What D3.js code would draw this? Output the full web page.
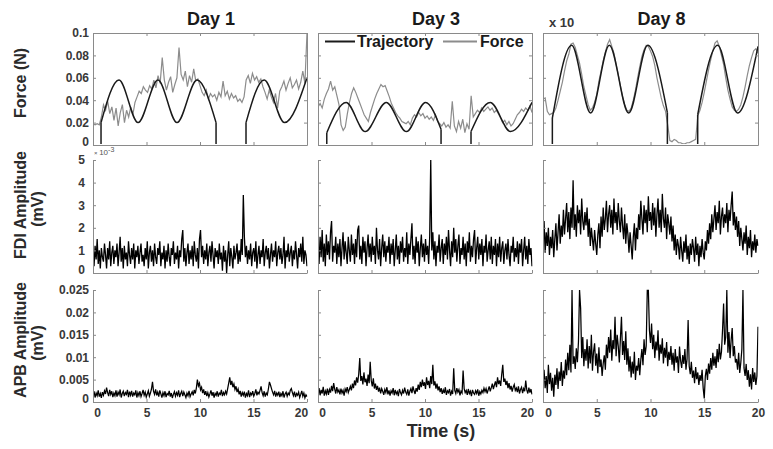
<!DOCTYPE html>
<html><head><meta charset="utf-8">
<script src="https://cdn.jsdelivr.net/npm/d3@7"></script>
<style>body{margin:0;background:#fff}svg{display:block}</style>
</head><body><svg id="c" width="773" height="449"></svg>
<script>
const days = ["Day 1", "Day 3", "Day 8"];
const duration = 20; // s, each recording spans 0–20 s, evenly sampled
const timeTicks = [0, 5, 10, 15, 20];
const timeTickLabels = ["0", "5", "10", "15", "20"];
const forceTicks = [0, 0.02, 0.04, 0.06, 0.08, 0.1];
const forceTickLabels = ["0", "0.02", "0.04", "0.06", "0.08", "0.1"];
const fdiTicks = [0, 1, 2, 3, 4, 5]; // ×10^-3 mV
const fdiTickLabels = ["0", "1", "2", "3", "4", "5"];
const apbTicks = [0, 0.005, 0.01, 0.015, 0.02, 0.025];
const apbTickLabels = ["0", "0.005", "0.01", "0.015", "0.02", "0.025"];
const legendLabels = ["Trajectory", "Force"];

// Trajectory (N): segments of [time s, force N]; consecutive segments joined by straight jumps
const trajDay1 = [
  [[0, 0], [0.75, 0]],
  [[0.75, .02], [2.43, .058], [4.21, .02], [6.07, .058], [7.85, .02], [9.72, .058], [11.5, .02]],
  [[11.5, 0], [14.3, 0]],
  [[14.3, .02], [16.0, .058], [17.9, .02], [20, .06]]
];
const trajDay3 = [
  [[0, 0], [0.82, 0]],
  [[0.82, .011], [2.63, .038], [4.41, .012], [6.38, .038], [8.26, .012], [10.05, .038], [11.5, .014]],
  [[11.5, 0], [14.3, 0]],
  [[14.3, .012], [16.1, .038], [18.0, .012], [20, .038]]
];
const trajDay8 = [
  [[0, 0], [0.87, 0]],
  [[0.87, .024], [2.67, .089], [4.43, .0285], [6.17, .089], [7.97, .0285], [9.74, .089], [11.57, .029]],
  [[11.57, 0], [14.39, 0]],
  [[14.39, .027], [16.25, .089], [18.1, .0285], [20, .088]]
];

// Measured force (N), evenly sampled over 0–20 s
const forceDay1 = [
.019,.018,.019,.018,.025,.036,.031,.039,.028,.034,
.022,.033,.017,.029,.036,.020,.031,.025,.034,.027,
.038,.043,.048,.046,.052,.049,.047,.053,.050,.058,
.051,.062,.055,.078,.058,.049,.056,.061,.047,.054,
.060,.087,.063,.058,.066,.052,.062,.056,.068,.057,
.059,.053,.047,.044,.049,.041,.046,.043,.045,.040,
.047,.043,.057,.044,.048,.041,.046,.042,.044,.039,
.041,.038,.043,.058,.062,.055,.064,.058,.061,.056,
.059,.052,.047,.041,.049,.043,.038,.046,.033,.048,
.052,.057,.049,.055,.060,.051,.054,.058,.050,.056,
.066,.055,.100];
const forceDay3 = [
.034,.037,.033,.041,.046,.050,.057,.049,.052,.044,
.036,.018,.013,.016,.028,.038,.046,.051,.047,.042,
.037,.032,.027,.024,.021,.029,.035,.041,.046,.050,
.054,.052,.053,.048,.043,.037,.033,.029,.026,.024,
.021,.020,.019,.021,.018,.024,.027,.025,.029,.026,
.028,.024,.026,.023,.025,.022,.027,.021,.019,.017,
.020,.016,.018,.015,.039,.017,.012,.021,.015,.023,
.011,.019,.014,.044,.025,.028,.031,.029,.033,.030,
.032,.034,.031,.033,.029,.031,.028,.024,.020,.022,
.018,.021,.017,.019,.023,.027,.029,.032,.030,.033,
.031,.035,.029];
const forceDay8 = [
.041,.042,.030,.027,.028,.029,.033,.040,.048,.056,
.066,.075,.081,.090,.091,.087,.080,.073,.063,.052,
.044,.036,.031,.033,.038,.045,.057,.066,.075,.083,
.090,.094,.088,.082,.072,.063,.053,.043,.036,.031,
.030,.033,.040,.049,.060,.070,.079,.085,.089,.088,
.084,.079,.071,.060,.051,.042,.035,.030,.018,.004,
.003,.005,.004,.002,.002,.001,.001,.002,.002,.003,
.004,.005,.026,.031,.038,.047,.057,.067,.076,.084,
.091,.093,.088,.080,.072,.060,.049,.041,.034,.031,
.030,.032,.036,.043,.052,.062,.071,.078,.084,.086,
.082];

// FDI EMG amplitude (×10^-3 mV), evenly sampled over 0–20 s
const fdiDay1 = [
.9,.3,1.2,.6,1.5,.4,1.0,.2,1.1,.7,
.5,1.3,.8,.2,1.1,.6,1.4,.3,.9,1.2,
.4,1.0,.7,1.3,.3,.9,1.6,.5,1.1,.2,
1.2,.6,.9,.3,1.4,.8,.4,1.1,.6,1.3,
.2,1.0,.7,1.2,.4,.9,1.3,.5,.8,.3,
1.1,.6,1.4,.2,.9,1.2,.5,1.0,.3,1.3,
.7,.4,1.1,.8,1.4,.3,.9,.6,1.2,.2,
1.0,.5,1.3,.7,.3,1.1,.8,1.4,.4,.9,
.6,1.2,.2,1.0,.7,1.5,1.9,.5,1.1,.3,
.9,1.3,.4,1.0,.6,1.2,.3,1.4,.8,.5,
1.1,.2,1.5,1.9,.7,1.2,.4,1.0,.6,1.3,
.3,.9,1.2,.5,1.4,.8,.2,1.1,.7,1.0,
.4,1.3,.6,.9,.1,1.2,.5,1.0,0,.8,
1.4,.3,1.1,.7,.2,1.2,.6,.9,1.3,.4,
1.0,.5,1.5,.8,3.45,1.6,.7,1.2,.4,1.0,
.6,1.3,.3,.9,1.1,.5,1.4,.2,.8,1.2,
.4,1.0,.7,1.5,.3,.9,1.2,.6,1.1,.2,
.8,1.3,.5,1.0,.7,1.4,.3,.9,1.2,.6,
1.1,.4,.8,1.6,.2,1.0,.7,1.3,.5,.9,
1.2,.3,1.0,.6,1.4,.8,.2,1.1,.7,1.3,
.5,1.6,.4,1.0,.8,.3];
const fdiDay3 = [
1.2,.4,1.6,.7,1.9,.5,1.3,.3,1.7,.8,
1.4,.6,1.8,2.3,.5,1.2,.9,1.6,.4,1.3,
.7,1.5,.3,1.1,1.8,.6,1.4,.9,.4,1.6,
1.0,.5,1.7,.8,1.3,.4,1.5,.7,1.9,2.1,
.6,1.2,.4,1.6,.9,1.4,.3,1.1,1.7,.7,
1.3,.5,1.6,.8,1.2,.4,2.0,1.0,.6,1.5,
.3,1.1,1.7,.7,1.4,.5,1.2,.9,1.6,.4,
1.3,.8,1.5,.3,1.0,1.7,.6,1.2,.4,1.4,
.9,1.6,.5,1.1,.7,1.8,.4,1.3,.8,1.5,
2.2,.6,1.2,.4,1.6,.9,1.4,.3,1.1,1.7,
.7,1.3,.5,1.5,.8,1.2,.4,1.6,5.0,1.0,
1.8,.6,1.4,.3,1.2,.9,1.7,.5,1.1,1.5,
.4,1.3,.8,1.6,.6,1.9,1.0,.3,1.4,.7,
2.0,.9,1.5,.5,1.2,1.7,.4,1.1,.8,1.6,
.6,1.3,.3,1.4,.9,1.8,.5,1.2,.7,1.5,
1.9,.4,1.1,1.6,.6,1.3,.8,1.5,.3,1.2,
.9,1.7,.5,1.0,1.4,.6,1.6,.4,1.2,.8,
1.5,.3,1.3,.7,1.6,.5,1.1,1.4,.4,1.0,
1.3,.6,1.5,.8,.3,1.2,.9,1.6,.5,1.1,
.7,1.4,.4,1.3,.9,1.5,.3,1.0,1.6,.6,
1.2,.4,1.5,.8,1.1,.3];
const fdiDay8 = [
1.4,2.3,.9,1.8,1.2,2.0,.8,1.6,1.1,1.9,
.7,1.5,2.2,1.0,1.8,2.6,1.3,2.1,1.6,2.8,
1.7,2.4,3.1,1.8,2.7,1.5,2.9,2.0,4.1,1.9,
2.6,1.6,3.0,2.2,2.8,1.7,3.3,2.3,1.9,2.7,
2.1,2.9,1.6,2.4,1.2,2.0,1.5,1.0,1.9,1.3,
.8,1.7,2.2,1.1,2.5,1.6,2.9,1.9,2.4,3.2,
1.8,2.6,3.0,2.0,2.8,1.7,3.3,2.2,2.7,1.9,
3.1,2.3,1.8,2.9,2.1,1.5,2.6,1.3,2.2,1.7,
.9,1.8,1.2,.6,1.6,2.2,1.0,2.0,1.5,2.6,
1.9,3.2,2.4,1.7,3.0,2.2,2.8,1.8,3.4,2.3,
2.7,1.9,3.1,2.1,2.9,1.6,2.6,3.3,2.0,2.8,
1.8,3.5,2.4,2.0,2.9,1.5,2.6,2.2,1.7,2.5,
1.4,2.1,1.0,1.7,.8,1.5,1.2,.6,1.6,1.0,
.5,1.4,.9,1.7,.6,1.2,.4,1.3,.8,1.5,
1.1,.5,1.6,.8,1.3,.3,1.2,.7,1.5,.9,
.6,1.4,1.0,1.9,1.3,2.2,1.5,2.6,1.8,2.4,
3.0,1.9,2.7,2.2,3.2,1.7,2.5,2.9,2.0,2.6,
2.2,3.1,1.8,2.8,2.3,3.0,3.6,2.1,2.7,1.9,
2.5,1.6,2.3,1.2,2.0,1.5,1.0,1.8,1.3,2.1,
.8,1.6,1.1,1.9,.7,1.4,1.0,1.7,.9,1.5,
1.2];

// APB EMG amplitude (mV), evenly sampled over 0–20 s
const apbDay1 = [
.0016,.0024,.0010,.0020,.0014,.0026,.0012,.0019,.0009,.0022,
.0015,.0025,.0018,.0032,.0021,.0013,.0027,.0017,.0024,.0011,
.0020,.0014,.0026,.0012,.0022,.0016,.0028,.0010,.0019,.0024,
.0013,.0021,.0017,.0027,.0011,.0023,.0015,.0025,.0012,.0020,
.0016,.0026,.0010,.0021,.0014,.0024,.0012,.0019,.0027,.0015,
.0022,.0011,.0018,.0025,.0013,.0020,.0029,.0045,.0024,.0017,
.0028,.0015,.0022,.0012,.0026,.0018,.0010,.0021,.0014,.0024,
.0011,.0019,.0016,.0025,.0012,.0020,.0009,.0017,.0023,.0013,
.0021,.0015,.0026,.0011,.0019,.0024,.0013,.0022,.0016,.0010,
.0020,.0014,.0025,.0012,.0018,.0023,.0015,.0027,.0019,.0031,
.0050,.0036,.0042,.0027,.0033,.0020,.0028,.0016,.0024,.0013,
.0021,.0011,.0018,.0026,.0014,.0022,.0010,.0019,.0015,.0024,
.0012,.0020,.0017,.0027,.0013,.0021,.0016,.0024,.0018,.0030,
.0042,.0055,.0038,.0047,.0033,.0040,.0028,.0035,.0022,.0029,
.0017,.0025,.0012,.0021,.0015,.0023,.0010,.0019,.0014,.0026,
.0011,.0020,.0016,.0024,.0013,.0019,.0028,.0015,.0022,.0018,
.0026,.0035,.0021,.0014,.0024,.0012,.0020,.0016,.0029,.0045,
.0038,.0030,.0022,.0016,.0025,.0012,.0020,.0015,.0023,.0011,
.0019,.0014,.0024,.0010,.0018,.0022,.0013,.0020,.0016,.0026,
.0030,.0021,.0014,.0023,.0011,.0019,.0015,.0022,.0010,.0017,
.0025,.0013,.0020,.0009,.0016,.0012];
const apbDay3 = [
.0022,.0031,.0015,.0027,.0019,.0034,.0014,.0025,.0018,.0030,
.0016,.0028,.0021,.0036,.0024,.0042,.0029,.0019,.0033,.0022,
.0027,.0017,.0030,.0020,.0026,.0014,.0029,.0023,.0033,.0021,
.0028,.0035,.0026,.0041,.0031,.0048,.0037,.0055,.0043,.0062,
.0098,.0047,.0058,.0039,.0066,.0044,.0052,.0036,.0061,.0042,
.0090,.0048,.0035,.0053,.0030,.0041,.0027,.0036,.0023,.0032,
.0019,.0030,.0024,.0016,.0028,.0021,.0033,.0017,.0026,.0014,
.0025,.0020,.0031,.0015,.0027,.0018,.0023,.0013,.0029,.0021,
.0016,.0026,.0019,.0032,.0022,.0017,.0028,.0014,.0024,.0030,
.0020,.0035,.0025,.0018,.0031,.0023,.0039,.0027,.0045,.0033,
.0050,.0036,.0044,.0029,.0055,.0038,.0047,.0031,.0058,.0040,
.0083,.0037,.0046,.0030,.0041,.0026,.0035,.0022,.0031,.0018,
.0027,.0020,.0033,.0016,.0025,.0021,.0029,.0014,.0024,.0018,
.0075,.0026,.0019,.0031,.0022,.0028,.0015,.0024,.0020,.0070,
.0030,.0021,.0026,.0016,.0029,.0019,.0024,.0013,.0027,.0020,
.0017,.0025,.0019,.0028,.0014,.0023,.0018,.0026,.0021,.0031,
.0023,.0030,.0019,.0027,.0035,.0024,.0032,.0041,.0029,.0038,
.0046,.0033,.0055,.0040,.0048,.0036,.0062,.0083,.0045,.0052,
.0038,.0047,.0031,.0042,.0028,.0036,.0023,.0033,.0039,.0026,
.0031,.0022,.0035,.0019,.0028,.0033,.0020,.0030,.0024,.0048,
.0027,.0019,.0032,.0021,.0029,.0017];
const apbDay8 = [
.0045,.0072,.0031,.0058,.0020,.0083,.0040,.0065,.0025,.0054,
.0012,.0061,.0038,.0075,.0029,.0068,.0047,.0089,.0036,.0070,
.0052,.0095,.0060,.0110,.0071,.0128,.0066,.0250,.0085,.0102,
.0074,.0120,.0089,.0135,.0250,.0210,.0098,.0145,.0080,.0118,
.0092,.0140,.0075,.0125,.0086,.0150,.0070,.0112,.0131,.0081,
.0108,.0064,.0122,.0078,.0095,.0058,.0086,.0104,.0072,.0128,
.0098,.0145,.0110,.0162,.0092,.0138,.0118,.0190,.0102,.0150,
.0125,.0088,.0142,.0190,.0105,.0136,.0094,.0158,.0083,.0120,
.0068,.0102,.0055,.0090,.0063,.0112,.0049,.0081,.0070,.0098,
.0060,.0095,.0118,.0082,.0140,.0105,.0125,.0250,.0250,.0160,
.0132,.0175,.0118,.0150,.0098,.0135,.0115,.0160,.0092,.0128,
.0108,.0142,.0086,.0121,.0099,.0134,.0080,.0112,.0094,.0125,
.0083,.0110,.0070,.0118,.0088,.0102,.0065,.0124,.0092,.0076,
.0105,.0085,.0118,.0072,.0096,.0183,.0080,.0062,.0090,.0054,
.0070,.0042,.0078,.0051,.0066,.0038,.0060,.0047,.0072,.0031,
.0008,.0058,.0074,.0049,.0086,.0063,.0098,.0072,.0110,.0081,
.0102,.0076,.0118,.0089,.0130,.0095,.0112,.0160,.0220,.0128,
.0145,.0250,.0110,.0156,.0098,.0138,.0165,.0102,.0125,.0088,
.0096,.0072,.0110,.0065,.0088,.0118,.0250,.0076,.0058,.0085,
.0049,.0071,.0034,.0062,.0028,.0076,.0045,.0066,.0038,.0058,
.0168];

const trajData = [trajDay1, trajDay3, trajDay8];
const forceData = [forceDay1, forceDay3, forceDay8];
const fdiData = [fdiDay1, fdiDay3, fdiDay8];
const apbData = [apbDay1, apbDay3, apbDay8];

// ---- layout & style ----
const FONT = '"Liberation Sans", Arial, Helvetica, sans-serif';
const AXC = "#8a8a8a", LBL = "#383838", INK = "#1a1a1a";
const cols = [{x0: 93, x1: 307, dxFirst: 4, dxLast: -6},
              {x0: 318, x1: 532, dxFirst: 4, dxLast: -5},
              {x0: 543, x1: 758, dxFirst: 5, dxLast: 0}];
const rowBox = [{y0: 33, y1: 145}, {y0: 160, y1: 273}, {y0: 290, y1: 402}];

const svg = d3.select("#c");
const defs = svg.append("defs");

const yForce = d3.scaleLinear([0, 0.1], [rowBox[0].y1, rowBox[0].y0]);
const yFdi = d3.scaleLinear([0, 5], [rowBox[1].y1, rowBox[1].y0]);
const yApb = d3.scaleLinear([0, 0.025], [rowBox[2].y1, rowBox[2].y0]);

function styleAxis(g) {
  g.attr("font-family", FONT).attr("font-size", 12).attr("font-weight", "bold");
  g.select(".domain").attr("stroke", AXC);
  g.selectAll(".tick line").attr("stroke", AXC);
  g.selectAll(".tick text").attr("fill", LBL);
}
function liftZero(g) {
  g.selectAll(".tick text").filter(d => d === 0).attr("y", -3).attr("dy", "0.32em");
}
const noLabel = () => "";

function sampled(arr) {
  const n = arr.length;
  return arr.map((v, i) => [i * duration / (n - 1), v]);
}

cols.forEach((c, ci) => {
  const x = d3.scaleLinear([0, duration], [c.x0, c.x1]);
  // clip paths (force row clipped just above its bottom axis so zero-level traces stay hidden)
  rowBox.forEach((r, ri) => {
    const bottom = ri === 0 ? r.y1 - 1 : r.y1 + 0.5;
    defs.append("clipPath").attr("id", `clip${ci}${ri}`)
      .append("rect").attr("x", c.x0).attr("y", r.y0 - 0.5)
      .attr("width", c.x1 - c.x0 + 0.5).attr("height", bottom - r.y0 + 0.5);
  });

  // ---- Row 1: force & trajectory ----
  const g1 = svg.append("g").attr("clip-path", `url(#clip${ci}0)`);
  const lineF = d3.line().x(d => x(d[0])).y(d => yForce(d[1]));
  g1.append("path").datum(sampled(forceData[ci]))
    .attr("d", lineF).attr("fill", "none").attr("stroke", "#8c8c8c").attr("stroke-width", 1.2);
  const segs = trajData[ci];
  const smooth = d3.line().x(d => x(d[0])).y(d => yForce(d[1])).curve(d3.curveMonotoneX);
  segs.forEach((s, si) => {
    g1.append("path").datum(s).attr("d", smooth)
      .attr("fill", "none").attr("stroke", INK).attr("stroke-width", 1.5);
    if (si < segs.length - 1) {
      const a = s[s.length - 1], b = segs[si + 1][0];
      g1.append("path").datum([a, b]).attr("d", lineF)
        .attr("fill", "none").attr("stroke", INK).attr("stroke-width", 1.5);
    }
  });

  // ---- Row 2: FDI ----
  const g2 = svg.append("g").attr("clip-path", `url(#clip${ci}1)`);
  g2.append("path").datum(sampled(fdiData[ci]))
    .attr("d", d3.line().x(d => x(d[0])).y(d => yFdi(d[1])))
    .attr("fill", "none").attr("stroke", "#000").attr("stroke-width", 1.3);

  // ---- Row 3: APB ----
  const g3 = svg.append("g").attr("clip-path", `url(#clip${ci}2)`);
  g3.append("path").datum(sampled(apbData[ci]))
    .attr("d", d3.line().x(d => x(d[0])).y(d => yApb(d[1])))
    .attr("fill", "none").attr("stroke", "#000").attr("stroke-width", 1.25);

  // ---- axes ----
  const r0 = rowBox[0];
  svg.append("g").attr("transform", `translate(0,${r0.y1})`)
    .call(d3.axisBottom(x).tickValues(timeTicks).tickSize(-3).tickSizeOuter(0).tickFormat(noLabel)).call(styleAxis);
  svg.append("g").attr("transform", `translate(0,${r0.y0})`)
    .call(d3.axisTop(x).tickValues(timeTicks).tickSize(-3).tickSizeOuter(0).tickFormat(noLabel)).call(styleAxis);
  svg.append("g").attr("transform", `translate(${c.x0},0)`)
    .call(d3.axisLeft(yForce).tickValues(forceTicks).tickSize(-3).tickSizeOuter(0).tickPadding(4)
      .tickFormat(ci === 0 ? (d, i) => forceTickLabels[i] : noLabel)).call(styleAxis).call(liftZero);
  svg.append("g").attr("transform", `translate(${c.x1},0)`)
    .call(d3.axisRight(yForce).tickValues(forceTicks).tickSize(-3).tickSizeOuter(0).tickFormat(noLabel)).call(styleAxis);

  const r1 = rowBox[1];
  svg.append("g").attr("transform", `translate(0,${r1.y1})`)
    .call(d3.axisBottom(x).tickValues(timeTicks).tickSize(-3).tickSizeOuter(0).tickFormat(noLabel)).call(styleAxis);
  svg.append("g").attr("transform", `translate(${c.x0},0)`)
    .call(d3.axisLeft(yFdi).tickValues(fdiTicks).tickSize(-3).tickSizeOuter(0).tickPadding(8)
      .tickFormat(ci === 0 ? (d, i) => fdiTickLabels[i] : noLabel)).call(styleAxis).call(liftZero);

  const r2 = rowBox[2];
  const xb = svg.append("g").attr("transform", `translate(0,${r2.y1})`)
    .call(d3.axisBottom(x).tickValues(timeTicks).tickSize(-3).tickSizeOuter(0).tickPadding(6)
      .tickFormat((d, i) => timeTickLabels[i])).call(styleAxis);
  xb.selectAll(".tick text").attr("dx", (d, i, n) => i === 0 ? c.dxFirst : (i === n.length - 1 ? c.dxLast : 0));
  svg.append("g").attr("transform", `translate(${c.x0},0)`)
    .call(d3.axisLeft(yApb).tickValues(apbTicks).tickSize(-3).tickSizeOuter(0).tickPadding(4)
      .tickFormat(ci === 0 ? (d, i) => apbTickLabels[i] : noLabel)).call(styleAxis).call(liftZero);

  // day title
  svg.append("text").attr("x", (c.x0 + c.x1) / 2 + 11).attr("y", 25)
    .attr("text-anchor", "middle").attr("font-family", FONT).attr("font-weight", "bold")
    .attr("font-size", 18).attr("fill", INK).text(days[ci]);
});

// legend (Day 3 force panel)
const lg = svg.append("g").attr("font-family", FONT).attr("font-weight", "bold").attr("font-size", 16).attr("fill", INK);
lg.append("line").attr("x1", 325).attr("x2", 355).attr("y1", 41.5).attr("y2", 41.5).attr("stroke", INK).attr("stroke-width", 2);
lg.append("text").attr("x", 357).attr("y", 47).text(legendLabels[0]);
lg.append("line").attr("x1", 443).attr("x2", 477).attr("y1", 41.5).attr("y2", 41.5).attr("stroke", "#8c8c8c").attr("stroke-width", 2);
lg.append("text").attr("x", 480).attr("y", 47).text(legendLabels[1]);

// exponent labels
svg.append("text").attr("x", 549).attr("y", 27).attr("font-family", FONT).attr("font-weight", "bold")
  .attr("font-size", 13).attr("fill", LBL).text("x 10");
const ex = svg.append("text").attr("x", 94).attr("y", 155).attr("font-family", FONT).attr("fill", "#555").attr("font-size", 8);
ex.append("tspan").attr("font-size", 6).text("× ");
ex.append("tspan").text("10");
ex.append("tspan").attr("dy", -3).attr("font-size", 7).text("-3");

// axis titles
function yTitle(txt, x, y) {
  svg.append("text").attr("transform", `translate(${x},${y}) rotate(-90)`)
    .attr("text-anchor", "middle").attr("font-family", FONT).attr("font-weight", "bold")
    .attr("font-size", 16).attr("fill", "#2a2a2a").text(txt);
}
yTitle("Force (N)", 26, 83);
yTitle("FDI Amplitude", 26, 205);
yTitle("(mV)", 43, 209);
yTitle("APB Amplitude", 26, 340);
yTitle("(mV)", 43, 343);
svg.append("text").attr("x", 441).attr("y", 437).attr("text-anchor", "middle")
  .attr("font-family", FONT).attr("font-weight", "bold").attr("font-size", 18).attr("fill", "#2a2a2a").text("Time (s)");
</script></body></html>
